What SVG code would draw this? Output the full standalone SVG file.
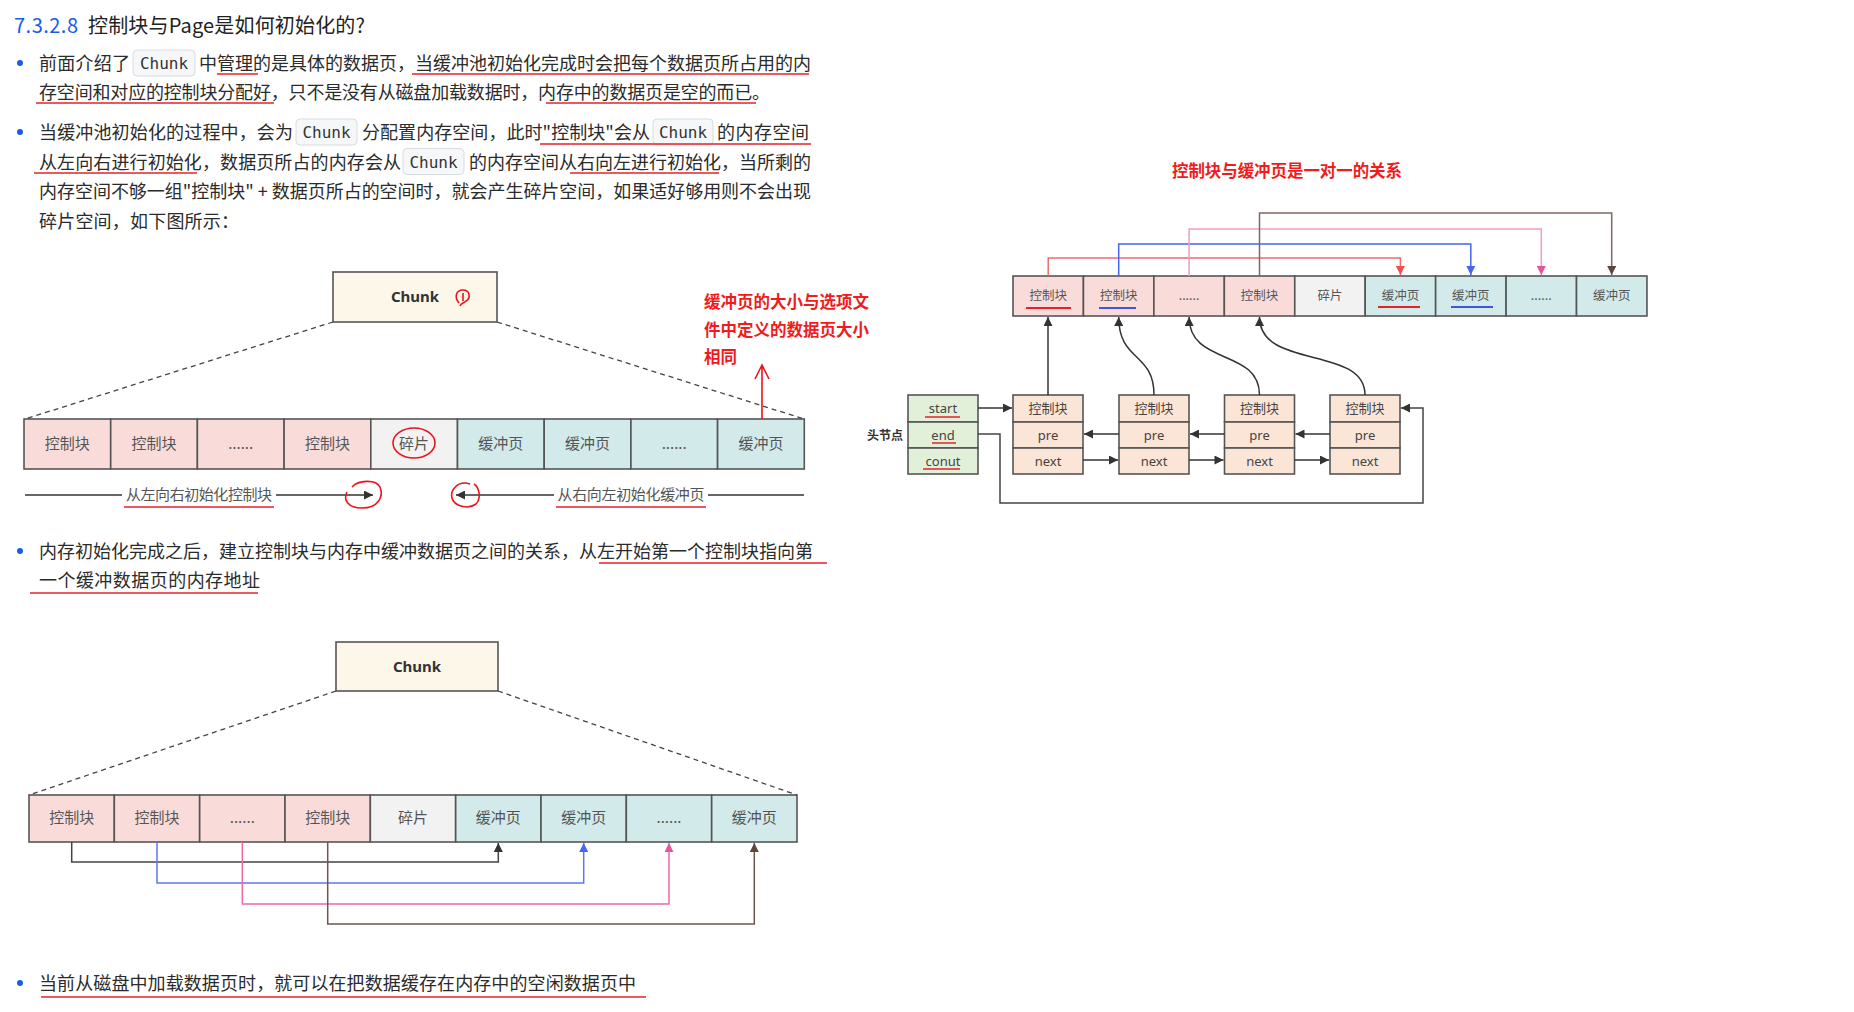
<svg xmlns="http://www.w3.org/2000/svg" width="1854" height="1012" viewBox="0 0 1854 1012">
<defs>
<style>
.body{font-family:"Noto Sans CJK SC","Noto Sans",sans-serif;font-size:18px;fill:#2b2b2b}
.code{font-family:"DejaVu Sans Mono","Liberation Mono",monospace;font-size:16px;fill:#333}
.codebox{fill:#f6f7f8;stroke:#d9dcdf;stroke-width:1}
.ul{stroke:#e8202a;stroke-width:1.6;fill:none}
.bullet{fill:#1a5ce6}
.cell{stroke:#555;stroke-width:1.6}
.pink{fill:#f9dcda}
.gray{fill:#f2f2f2}
.teal{fill:#d2eaea}
.lbl{font-family:"Noto Sans CJK SC","Noto Sans",sans-serif;font-size:15px;fill:#555;text-anchor:middle}
.lbls{font-family:"Noto Sans CJK SC","Noto Sans",sans-serif;font-size:12.5px;fill:#555;text-anchor:middle}
.lbln{font-family:"Noto Sans","Noto Sans CJK SC",sans-serif;font-size:13px;fill:#444;text-anchor:middle}
.chunk{font-family:"Noto Sans","Liberation Sans",sans-serif;font-size:15px;font-weight:bold;fill:#333;text-anchor:middle}
.chunkbox{fill:#fcf7e9;stroke:#555;stroke-width:1.6}
.dash{stroke:#444;stroke-width:1.3;stroke-dasharray:5 4;fill:none}
.red{font-family:"Noto Sans CJK SC","Noto Sans",sans-serif;font-size:16.5px;font-weight:bold;fill:#f01c1c}
.pen{stroke:#e8151e;stroke-width:1.6;fill:none}
.conn{fill:none;stroke-width:1.5}
.green{fill:#e2f0d9}
.peach{fill:#fbe5d6}
</style>
<marker id="a-dark" viewBox="0 0 10 10" refX="10" refY="5" markerWidth="11" markerHeight="9" orient="auto" markerUnits="userSpaceOnUse"><path d="M0,0 L10,5 L0,10 z" fill="#333"/></marker>
<marker id="a-blue" viewBox="0 0 10 10" refX="10" refY="5" markerWidth="11" markerHeight="9" orient="auto" markerUnits="userSpaceOnUse"><path d="M0,0 L10,5 L0,10 z" fill="#4466f0"/></marker>
<marker id="a-pink" viewBox="0 0 10 10" refX="10" refY="5" markerWidth="11" markerHeight="9" orient="auto" markerUnits="userSpaceOnUse"><path d="M0,0 L10,5 L0,10 z" fill="#e9539b"/></marker>
<marker id="a-brown" viewBox="0 0 10 10" refX="10" refY="5" markerWidth="11" markerHeight="9" orient="auto" markerUnits="userSpaceOnUse"><path d="M0,0 L10,5 L0,10 z" fill="#5e463f"/></marker>
<marker id="a-red" viewBox="0 0 10 10" refX="10" refY="5" markerWidth="11" markerHeight="9" orient="auto" markerUnits="userSpaceOnUse"><path d="M0,0 L10,5 L0,10 z" fill="#f05050"/></marker>
</defs>
<rect width="1854" height="1012" fill="#ffffff"/>

<!-- Text -->
<g id="text">
<text x="14" y="33" font-family="'Noto Sans CJK SC','Noto Sans',sans-serif" font-size="20" fill="#1a5ce6" textLength="64">7.3.2.8</text>
<text x="88" y="33" font-family="'Noto Sans CJK SC','Noto Sans',sans-serif" font-size="20" fill="#222" textLength="277">控制块与Page是如何初始化的?</text>

<circle class="bullet" cx="20" cy="63" r="3"/>
<text class="body" x="39" y="70" textLength="91">前面介绍了</text>
<rect class="codebox" x="133" y="50" width="62" height="26" rx="4"/>
<text class="code" x="164" y="69" text-anchor="middle">Chunk</text>
<text class="body" x="199" y="70" textLength="612">中管理的是具体的数据页，当缓冲池初始化完成时会把每个数据页所占用的内</text>
<text class="body" x="39" y="99" textLength="731">存空间和对应的控制块分配好，只不是没有从磁盘加载数据时，内存中的数据页是空的而已。</text>
<path class="ul" d="M217,74 H258 M412,74 H809 M36,103 H274 M546,103 H756"/>

<circle class="bullet" cx="20" cy="132" r="3"/>
<text class="body" x="39" y="139" textLength="254">当缓冲池初始化的过程中，会为</text>
<rect class="codebox" x="296" y="119" width="61" height="26" rx="4"/>
<text class="code" x="326.5" y="138" text-anchor="middle">Chunk</text>
<text class="body" x="362" y="139" textLength="288">分配置内存空间，此时"控制块"会从</text>
<rect class="codebox" x="653" y="119" width="60" height="26" rx="4"/>
<text class="code" x="683" y="138" text-anchor="middle">Chunk</text>
<text class="body" x="717" y="139" textLength="92">的内存空间</text>
<text class="body" x="39" y="168.5" textLength="362">从左向右进行初始化，数据页所占的内存会从</text>
<rect class="codebox" x="403" y="148.5" width="61" height="26" rx="4"/>
<text class="code" x="433.5" y="167.5" text-anchor="middle">Chunk</text>
<text class="body" x="469" y="168.5" textLength="342">的内存空间从右向左进行初始化，当所剩的</text>
<text class="body" x="39" y="198" textLength="772">内存空间不够一组"控制块" + 数据页所占的空间时，就会产生碎片空间，如果适好够用则不会出现</text>
<text class="body" x="39" y="227.5" textLength="200">碎片空间，如下图所示：</text>
<path class="ul" d="M540,144 H811 M34,173 H197 M570,173 H719"/>

<circle class="bullet" cx="20" cy="551" r="3"/>
<text class="body" x="39" y="558" textLength="774">内存初始化完成之后，建立控制块与内存中缓冲数据页之间的关系，从左开始第一个控制块指向第</text>
<text class="body" x="39" y="587" textLength="221">一个缓冲数据页的内存地址</text>
<path class="ul" d="M599,563 H827 M30,593 H258"/>

<circle class="bullet" cx="20" cy="983" r="3"/>
<text class="body" x="39" y="990" textLength="597">当前从磁盘中加载数据页时，就可以在把数据缓存在内存中的空闲数据页中</text>
<path class="ul" d="M41,997 H646"/>
</g>

<!-- Diagram 1 -->
<g id="d1-chunk">
<rect class="chunkbox" x="333" y="272" width="164" height="50"/>
<text class="chunk" x="415" y="302">Chunk</text>
<path class="pen" d="M459,303 C454,297 456,290 463,290 C470,290 471,298 466,301 C464,303 461,303 460,306 M463,293 V301"/>
</g>
<g id="d1-cells">
<rect class="cell pink" x="24" y="419" width="86.7" height="50"/>
<rect class="cell pink" x="110.7" y="419" width="86.7" height="50"/>
<rect class="cell pink" x="197.4" y="419" width="86.7" height="50"/>
<rect class="cell pink" x="284.1" y="419" width="86.7" height="50"/>
<rect class="cell gray" x="370.8" y="419" width="86.7" height="50"/>
<rect class="cell teal" x="457.5" y="419" width="86.7" height="50"/>
<rect class="cell teal" x="544.2" y="419" width="86.7" height="50"/>
<rect class="cell teal" x="630.9" y="419" width="86.7" height="50"/>
<rect class="cell teal" x="717.6" y="419" width="86.7" height="50"/>
<text class="lbl" x="67.3" y="449">控制块</text>
<text class="lbl" x="154" y="449">控制块</text>
<text class="lbl" x="240.7" y="449">......</text>
<text class="lbl" x="327.4" y="449">控制块</text>
<text class="lbl" x="414.1" y="449">碎片</text>
<text class="lbl" x="500.8" y="449">缓冲页</text>
<text class="lbl" x="587.5" y="449">缓冲页</text>
<text class="lbl" x="674.2" y="449">......</text>
<text class="lbl" x="760.9" y="449">缓冲页</text>
<ellipse class="pen" cx="414" cy="443" rx="21" ry="15"/>
</g>
<g id="d1-connectors">
<path class="dash" d="M333,322 L25,419 M497,322 L804,419"/>
<path class="conn" stroke="#333" d="M25,495 H122"/>
<path class="conn" stroke="#333" d="M276,495 H373" marker-end="url(#a-dark)"/>
<path class="conn" stroke="#333" d="M804,495 H708"/>
<path class="conn" stroke="#333" d="M554,495 H456" marker-end="url(#a-dark)"/>
<text class="lbl" x="199" y="500" textLength="146">从左向右初始化控制块</text>
<text class="lbl" x="631" y="500" textLength="147">从右向左初始化缓冲页</text>
<path class="ul" d="M124,507 H274 M556,507 H706"/>
<path class="pen" d="M352,487 C358,480 376,479 380,487 C384,497 378,508 362,508 C348,508 343,500 347,492"/>
<path class="pen" d="M470,484 C458,480 450,490 452,498 C454,506 468,510 476,504 C481,499 480,488 474,484"/>
<path class="pen" d="M762,419 V366 M755,379 L762,365 L769,379"/>
<text class="red" x="704" y="308">缓冲页的大小与选项文</text>
<text class="red" x="704" y="336">件中定义的数据页大小</text>
<text class="red" x="704" y="363">相同</text>
</g>

<!-- Diagram 2 -->
<g id="d2-chunk">
<rect class="chunkbox" x="336" y="642" width="162" height="49"/>
<text class="chunk" x="417" y="672">Chunk</text>
</g>
<g id="d2-cells">
<rect class="cell pink" x="29" y="795" width="85.33" height="47"/>
<rect class="cell pink" x="114.33" y="795" width="85.33" height="47"/>
<rect class="cell pink" x="199.67" y="795" width="85.33" height="47"/>
<rect class="cell pink" x="285" y="795" width="85.33" height="47"/>
<rect class="cell gray" x="370.33" y="795" width="85.33" height="47"/>
<rect class="cell teal" x="455.67" y="795" width="85.33" height="47"/>
<rect class="cell teal" x="541" y="795" width="85.33" height="47"/>
<rect class="cell teal" x="626.33" y="795" width="85.33" height="47"/>
<rect class="cell teal" x="711.67" y="795" width="85.33" height="47"/>
<text class="lbl" x="71.7" y="823">控制块</text>
<text class="lbl" x="157" y="823">控制块</text>
<text class="lbl" x="242.3" y="823">......</text>
<text class="lbl" x="327.7" y="823">控制块</text>
<text class="lbl" x="413" y="823">碎片</text>
<text class="lbl" x="498.3" y="823">缓冲页</text>
<text class="lbl" x="583.7" y="823">缓冲页</text>
<text class="lbl" x="669" y="823">......</text>
<text class="lbl" x="754.3" y="823">缓冲页</text>
</g>
<g id="d2-connectors">
<path class="dash" d="M336,691 L29,795 M498,691 L797,795"/>
<path class="conn" stroke="#444" d="M71.7,842 V862 H498.3 V843" marker-end="url(#a-dark)"/>
<path class="conn" stroke="#5b78f2" d="M157,842 V883 H583.7 V843" marker-end="url(#a-blue)"/>
<path class="conn" stroke="#ec6aa9" d="M242.3,842 V904 H669 V843" marker-end="url(#a-pink)"/>
<path class="conn" stroke="#6e564e" d="M327.7,842 V924 H754.3 V843" marker-end="url(#a-brown)"/>
</g>

<!-- Right diagram -->
<text class="red" x="1172" y="177" textLength="230">控制块与缓冲页是一对一的关系</text>
<g id="r-cells">
<rect class="cell pink" x="1013" y="276" width="70.44" height="40"/>
<rect class="cell pink" x="1083.44" y="276" width="70.44" height="40"/>
<rect class="cell pink" x="1153.88" y="276" width="70.44" height="40"/>
<rect class="cell pink" x="1224.32" y="276" width="70.44" height="40"/>
<rect class="cell gray" x="1294.76" y="276" width="70.44" height="40"/>
<rect class="cell teal" x="1365.2" y="276" width="70.44" height="40"/>
<rect class="cell teal" x="1435.64" y="276" width="70.44" height="40"/>
<rect class="cell teal" x="1506.08" y="276" width="70.44" height="40"/>
<rect class="cell teal" x="1576.52" y="276" width="70.44" height="40"/>
<text class="lbls" x="1048.2" y="300">控制块</text>
<text class="lbls" x="1118.7" y="300">控制块</text>
<text class="lbls" x="1189.1" y="300">......</text>
<text class="lbls" x="1259.5" y="300">控制块</text>
<text class="lbls" x="1330" y="300">碎片</text>
<text class="lbls" x="1400.4" y="300">缓冲页</text>
<text class="lbls" x="1470.8" y="300">缓冲页</text>
<text class="lbls" x="1541.3" y="300">......</text>
<text class="lbls" x="1611.7" y="300">缓冲页</text>
<path stroke="#e8202a" stroke-width="2" d="M1026,308 H1071 M1378,307 H1420"/>
<path stroke="#3f55e0" stroke-width="2" d="M1099,308 H1136 M1451,307 H1493"/>
</g>
<g id="r-head">
<rect class="cell green" x="908" y="395" width="70" height="27"/>
<rect class="cell green" x="908" y="422" width="70" height="26"/>
<rect class="cell green" x="908" y="448" width="70" height="26"/>
<text class="lbln" x="943" y="413">start</text>
<text class="lbln" x="943" y="440">end</text>
<text class="lbln" x="943" y="466">conut</text>
<path class="ul" d="M925,417 H960 M932,443 H956 M923,469 H960"/>
<text x="867" y="440" font-family="'Noto Sans CJK SC','Noto Sans',sans-serif" font-size="12" font-weight="bold" fill="#333">头节点</text>
</g>
<g id="r-node1">
<rect class="cell peach" x="1013" y="395" width="70" height="27"/>
<rect class="cell peach" x="1013" y="422" width="70" height="26"/>
<rect class="cell peach" x="1013" y="448" width="70" height="26"/>
<text class="lbln" x="1048" y="413">控制块</text><text class="lbln" x="1048" y="440">pre</text><text class="lbln" x="1048" y="466">next</text>
</g>
<g id="r-node2">
<rect class="cell peach" x="1119" y="395" width="70" height="27"/>
<rect class="cell peach" x="1119" y="422" width="70" height="26"/>
<rect class="cell peach" x="1119" y="448" width="70" height="26"/>
<text class="lbln" x="1154" y="413">控制块</text><text class="lbln" x="1154" y="440">pre</text><text class="lbln" x="1154" y="466">next</text>
</g>
<g id="r-node3">
<rect class="cell peach" x="1224.5" y="395" width="70" height="27"/>
<rect class="cell peach" x="1224.5" y="422" width="70" height="26"/>
<rect class="cell peach" x="1224.5" y="448" width="70" height="26"/>
<text class="lbln" x="1259.5" y="413">控制块</text><text class="lbln" x="1259.5" y="440">pre</text><text class="lbln" x="1259.5" y="466">next</text>
</g>
<g id="r-node4">
<rect class="cell peach" x="1330" y="395" width="70" height="27"/>
<rect class="cell peach" x="1330" y="422" width="70" height="26"/>
<rect class="cell peach" x="1330" y="448" width="70" height="26"/>
<text class="lbln" x="1365" y="413">控制块</text><text class="lbln" x="1365" y="440">pre</text><text class="lbln" x="1365" y="466">next</text>
</g>
<g id="r-connectors">
<path class="conn" stroke="#f26b6b" d="M1048.2,276 V258 H1400.4 V275" marker-end="url(#a-red)"/>
<path class="conn" stroke="#4466f0" stroke-width="2" d="M1118.7,276 V244 H1470.8 V275" marker-end="url(#a-blue)"/>
<path class="conn" stroke="#f29ac6" d="M1189.1,276 V229 H1541.3 V275" marker-end="url(#a-pink)"/>
<path class="conn" stroke="#7d6760" d="M1259.5,276 V213 H1611.7 V275" marker-end="url(#a-brown)"/>
<path class="conn" stroke="#333" d="M1048,395 V317" marker-end="url(#a-dark)"/>
<path class="conn" stroke="#333" d="M1154,395 C1154,352 1118.7,362 1118.7,317" marker-end="url(#a-dark)"/>
<path class="conn" stroke="#333" d="M1259.5,395 C1259.5,348 1189.1,366 1189.1,317" marker-end="url(#a-dark)"/>
<path class="conn" stroke="#333" d="M1365,395 C1365,345 1259.5,370 1259.5,317" marker-end="url(#a-dark)"/>
<path class="conn" stroke="#333" d="M978,408 H1012" marker-end="url(#a-dark)"/>
<path class="conn" stroke="#333" d="M1119,434 H1084" marker-end="url(#a-dark)"/>
<path class="conn" stroke="#333" d="M1224.5,434 H1190" marker-end="url(#a-dark)"/>
<path class="conn" stroke="#333" d="M1330,434 H1295.5" marker-end="url(#a-dark)"/>
<path class="conn" stroke="#333" d="M1083,460 H1118" marker-end="url(#a-dark)"/>
<path class="conn" stroke="#333" d="M1189,460 H1223.5" marker-end="url(#a-dark)"/>
<path class="conn" stroke="#333" d="M1294.5,460 H1329" marker-end="url(#a-dark)"/>
<path class="conn" stroke="#444" d="M978,434 H1000 V503 H1423 V408 H1401" marker-end="url(#a-dark)"/>
</g>
</svg>
